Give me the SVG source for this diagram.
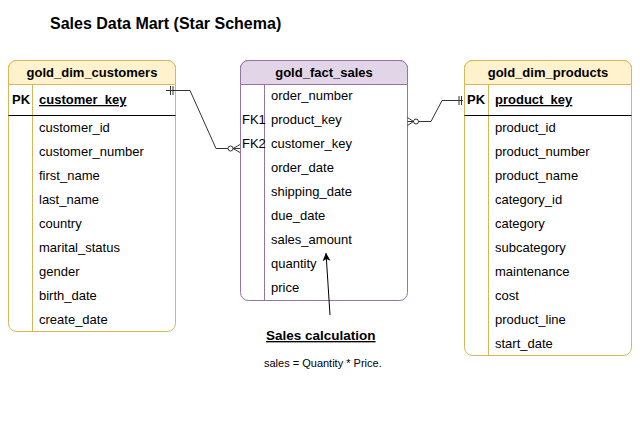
<svg xmlns="http://www.w3.org/2000/svg" width="640" height="423" viewBox="0 0 640 423">
<defs>
<style>
text{font-family:"Liberation Sans",Arial,sans-serif;font-size:13px;fill:#000}
.hd{font-weight:bold;text-anchor:middle}
.b{font-weight:bold}
.ybox{fill:#ffffff;stroke:#d6b656;stroke-width:1}
.yhd{fill:#fff2cc;stroke:#d6b656;stroke-width:1}
.pbox{fill:#ffffff;stroke:#9673a6;stroke-width:1}
.phd{fill:#e1d5e7;stroke:#9673a6;stroke-width:1}
.yl{stroke:#d6b656;stroke-width:1;fill:none}
.pl{stroke:#9673a6;stroke-width:1;fill:none}
.kl{stroke:#000;stroke-width:1;fill:none}
.cn{stroke:#333;stroke-width:1;fill:none}
.cc{stroke:#333;stroke-width:1;fill:#fff}
</style>
<marker id="arr" markerWidth="10" markerHeight="10" refX="8" refY="4" orient="auto" markerUnits="userSpaceOnUse">
<path d="M0,0 L8,4 L0,8 L2,4 Z" fill="#000"/>
</marker>
</defs>
<rect width="640" height="423" fill="#ffffff"/>
<text x="50" y="29" class="b" style="font-size:16px">Sales Data Mart (Star Schema)</text>

<g id="gold_dim_customers">
<rect class="ybox" x="8.5" y="60.5" width="167" height="271" rx="8"/>
<path class="yhd" d="M8.5,84.5 V68.5 A8,8 0 0 1 16.5,60.5 H167.5 A8,8 0 0 1 175.5,68.5 V84.5 Z"/>
<line class="yl" x1="32.5" y1="84.5" x2="32.5" y2="331.5"/>
<line class="kl" x1="8.5" y1="115.5" x2="175.5" y2="115.5"/>
<text class="hd" x="92" y="76.5">gold_dim_customers</text>
<text class="b" x="12" y="104">PK</text>
<text class="b" x="39" y="104" text-decoration="underline">customer_key</text>
<text x="39" y="131.5">customer_id</text>
<text x="39" y="155.5">customer_number</text>
<text x="39" y="179.5">first_name</text>
<text x="39" y="203.5">last_name</text>
<text x="39" y="227.5">country</text>
<text x="39" y="251.5">marital_status</text>
<text x="39" y="275.5">gender</text>
<text x="39" y="299.5">birth_date</text>
<text x="39" y="323.5">create_date</text>
</g>

<g id="gold_fact_sales">
<rect class="pbox" x="240.5" y="60.5" width="167" height="240" rx="8"/>
<path class="phd" d="M240.5,84.5 V68.5 A8,8 0 0 1 248.5,60.5 H399.5 A8,8 0 0 1 407.5,68.5 V84.5 Z"/>
<line class="pl" x1="264.5" y1="84.5" x2="264.5" y2="300.5"/>
<text class="hd" x="324" y="76.5">gold_fact_sales</text>
<text x="271" y="100">order_number</text>
<text x="242" y="124">FK1</text>
<text x="271" y="124">product_key</text>
<text x="242" y="148">FK2</text>
<text x="271" y="148">customer_key</text>
<text x="271" y="172">order_date</text>
<text x="271" y="196">shipping_date</text>
<text x="271" y="220">due_date</text>
<text x="271" y="244">sales_amount</text>
<text x="271" y="268">quantity</text>
<text x="271" y="292">price</text>
</g>

<g id="gold_dim_products">
<rect class="ybox" x="464.5" y="60.5" width="167" height="295" rx="8"/>
<path class="yhd" d="M464.5,84.5 V68.5 A8,8 0 0 1 472.5,60.5 H623.5 A8,8 0 0 1 631.5,68.5 V84.5 Z"/>
<line class="yl" x1="488.5" y1="84.5" x2="488.5" y2="355.5"/>
<line class="kl" x1="464.5" y1="115.5" x2="631.5" y2="115.5"/>
<text class="hd" x="548" y="76.5">gold_dim_products</text>
<text class="b" x="467" y="104">PK</text>
<text class="b" x="495" y="104" text-decoration="underline">product_key</text>
<text x="495" y="131.5">product_id</text>
<text x="495" y="155.5">product_number</text>
<text x="495" y="179.5">product_name</text>
<text x="495" y="203.5">category_id</text>
<text x="495" y="227.5">category</text>
<text x="495" y="251.5">subcategory</text>
<text x="495" y="275.5">maintenance</text>
<text x="495" y="299.5">cost</text>
<text x="495" y="323.5">product_line</text>
<text x="495" y="347.5">start_date</text>
</g>

<g id="connectors">
<path class="cn" d="M166,90.5 H190 L216,148.5 H228"/>
<path class="cn" d="M170.5,86 V95 M173,86 V95"/>
<circle class="cc" cx="230.5" cy="148.5" r="2.5"/>
<path class="cn" d="M233,148.5 L240,144.5 M233,148.5 L240,152.5 M233,148.5 H240"/>

<path class="cn" d="M418.5,121.5 H431 L442,100.5 H463"/>
<path class="cn" d="M459,96 V105 M461.5,96 V105"/>
<circle class="cc" cx="416" cy="121.5" r="2.5"/>
<path class="cn" d="M413.5,121.5 L407.5,117.5 M413.5,121.5 L407.5,125.5 M413.5,121.5 H407.5"/>

<line x1="330" y1="315" x2="326" y2="253" stroke="#000" stroke-width="1" marker-end="url(#arr)"/>
</g>

<g id="note">
<text class="b" x="266" y="340" style="font-size:13.5px" text-decoration="underline">Sales calculation</text>
<text x="264" y="367" style="font-size:11px">sales = Quantity * Price.</text>
</g>
</svg>
